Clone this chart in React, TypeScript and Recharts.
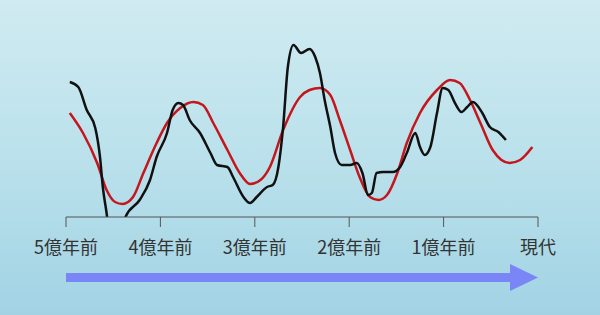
import { LineChart, Line, XAxis, YAxis } from 'recharts';

// time in millions of years (negative = ago), value in arbitrary units
const blackTime = [-496, -487, -478, -469, -464, -461, -457, -453, -445, -437, -422, -411, -404, -393, -387, -381, -376, -369, -358, -347, -340, -329, -323, -312, -305, -298, -287, -281, -275, -270, -265, -259, -251, -242, -236, -231, -226, -220, -215, -208, -199, -192, -186, -180, -176, -171, -164, -154, -146, -139, -130, -125, -120, -114, -107, -101, -95, -88, -81, -75, -69, -59, -51, -42, -34];
const blackValue = [135, 130, 107, 89, 60, 30, 4, -25, -25, 0, 17, 37, 60, 84, 107, 114, 112, 97, 84, 64, 52, 50, 40, 20, 14, 20, 30, 32, 50, 90, 150, 172, 164, 168, 160, 144, 117, 90, 64, 52, 52, 54, 44, 22, 24, 44, 45, 45, 50, 64, 84, 70, 62, 70, 104, 129, 127, 114, 105, 110, 115, 104, 90, 85, 77];

const redTime = [-496, -482, -467, -457, -448, -440, -429, -418, -404, -393, -379, -365, -355, -344, -329, -316, -305, -294, -284, -270, -252, -242, -231, -220, -210, -199, -189, -178, -169, -160, -149, -139, -125, -107, -93, -83, -72, -61, -48, -30, -19, -6];
const redValue = [104, 84, 54, 27, 15, 13, 20, 44, 74, 94, 109, 115, 112, 94, 67, 44, 33, 37, 50, 87, 120, 127, 129, 122, 97, 67, 40, 20, 17, 22, 44, 74, 104, 127, 137, 134, 117, 94, 67, 54, 57, 70];

const ticks = [-500, -400, -300, -200, -100, 0];
const tickLabels = ['5億年前', '4億年前', '3億年前', '2億年前', '1億年前', '現代'];

const blackData = blackTime.map((t, i) => ({ t, v: blackValue[i] }));
const redData = redTime.map((t, i) => ({ t, v: redValue[i] }));

export default function App() {
  return (
    <div
      style={{
        position: 'absolute',
        left: 0,
        top: 0,
        width: 600,
        height: 315,
        background: 'linear-gradient(to bottom, #d0ebf1 0%, #b8e0eb 55%, #a2d3e4 100%)',
        fontFamily: '"Noto Sans CJK JP", "Noto Sans", sans-serif',
      }}
    >
      <LineChart width={600} height={315} margin={{ top: 30, right: 62, bottom: 0, left: 66 }}>
        <XAxis
          type="number"
          dataKey="t"
          domain={[-500, 0]}
          ticks={ticks}
          tickFormatter={(v: number) => tickLabels[ticks.indexOf(v)]}
          stroke="#555"
          tickSize={10}
          tickMargin={14}
          tick={{ fontSize: 18, fill: '#333' }}
          height={98}
        />
        <YAxis hide type="number" domain={[0, 187]} allowDataOverflow />
        <Line
          data={redData}
          dataKey="v"
          type="monotone"
          stroke="#c4161c"
          strokeWidth={2.5}
          dot={false}
          isAnimationActive={false}
        />
        <Line
          data={blackData}
          dataKey="v"
          type="monotone"
          stroke="#111"
          strokeWidth={2.5}
          dot={false}
          isAnimationActive={false}
        />
      </LineChart>
      <svg width={600} height={315} style={{ position: 'absolute', left: 0, top: 0, pointerEvents: 'none' }}>
        <rect x={66} y={273} width={446} height={9} fill="#7b86f6" />
        <polygon points="510,264 538,277.5 510,291" fill="#7b86f6" />
      </svg>
    </div>
  );
}
